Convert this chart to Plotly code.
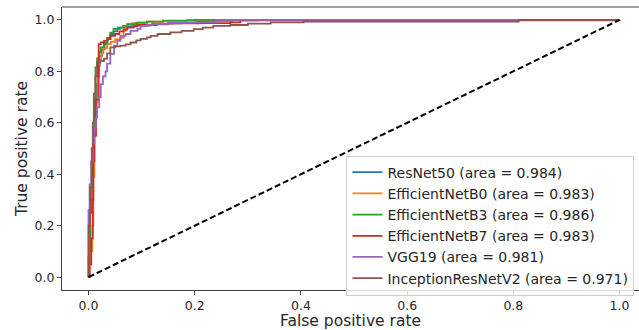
import plotly.graph_objects as go

names = ["ResNet50", "EfficientNetB0", "EfficientNetB3", "EfficientNetB7", "VGG19", "InceptionResNetV2"]
aucs = ["0.984", "0.983", "0.986", "0.983", "0.981", "0.971"]
colors = ["#1f77b4", "#ff7f0e", "#2ca02c", "#d62728", "#9467bd", "#8c564b"]

fpr_resnet50 = [0, 0, 0.003, 0.006, 0.006, 0.009, 0.012, 0.015, 0.018, 0.021, 0.025, 0.03, 0.036, 0.041, 0.047, 0.054, 0.06, 0.072, 0.085, 0.1, 0.117, 0.129, 0.15, 0.175, 0.205, 0.235, 0.27, 0.32, 1.0]
tpr_resnet50 = [0, 0.08, 0.25, 0.38, 0.45, 0.55, 0.66, 0.75, 0.82, 0.86, 0.885, 0.905, 0.925, 0.945, 0.955, 0.965, 0.97, 0.975, 0.978, 0.978, 0.98, 0.983, 0.986, 0.989, 0.992, 0.996, 0.998, 1.0, 1.0]

fpr_b0 = [0, 0.002, 0.004, 0.007, 0.009, 0.011, 0.014, 0.017, 0.02, 0.024, 0.028, 0.035, 0.042, 0.05, 0.06, 0.066, 0.07, 0.073, 0.082, 0.092, 0.11, 0.14, 0.186, 1.0]
tpr_b0 = [0, 0.05, 0.1, 0.2, 0.39, 0.55, 0.68, 0.78, 0.84, 0.87, 0.89, 0.906, 0.915, 0.925, 0.93, 0.957, 0.97, 0.983, 0.987, 0.99, 0.993, 0.996, 1.0, 1.0]

fpr_b3 = [0, 0.001, 0.003, 0.005, 0.007, 0.009, 0.011, 0.013, 0.016, 0.02, 0.023, 0.029, 0.035, 0.041, 0.047, 0.055, 0.065, 0.073, 0.09, 0.11, 0.14, 0.2, 1.0]
tpr_b3 = [0, 0.1, 0.25, 0.35, 0.5, 0.58, 0.69, 0.815, 0.85, 0.875, 0.893, 0.91, 0.93, 0.95, 0.965, 0.97, 0.977, 0.983, 0.988, 0.993, 0.997, 1.0, 1.0]

fpr_b7 = [0, 0.002, 0.005, 0.008, 0.009, 0.011, 0.014, 0.019, 0.023, 0.029, 0.035, 0.041, 0.05, 0.058, 0.066, 0.073, 0.085, 0.092, 0.12, 0.16, 0.21, 0.267, 0.286, 1.0]
tpr_b7 = [0, 0.05, 0.15, 0.3, 0.45, 0.55, 0.69, 0.906, 0.912, 0.918, 0.925, 0.938, 0.945, 0.955, 0.962, 0.97, 0.975, 0.98, 0.985, 0.986, 0.987, 0.99, 0.998, 1.0]

fpr_vgg19 = [0, 0, 0.002, 0.005, 0.008, 0.011, 0.014, 0.016, 0.02, 0.023, 0.027, 0.032, 0.035, 0.041, 0.048, 0.054, 0.06, 0.07, 0.079, 0.092, 0.098, 0.11, 0.122, 0.15, 0.2, 0.24, 1.0]
tpr_vgg19 = [0, 0.26, 0.36, 0.45, 0.52, 0.58, 0.62, 0.66, 0.7, 0.75, 0.78, 0.8, 0.83, 0.868, 0.9, 0.918, 0.938, 0.945, 0.957, 0.965, 0.977, 0.98, 0.984, 0.988, 0.99, 1.0, 1.0]

fpr_incep = [0, 0, 0.003, 0.006, 0.008, 0.01, 0.013, 0.016, 0.022, 0.029, 0.035, 0.041, 0.05, 0.06, 0.07, 0.079, 0.09, 0.098, 0.11, 0.117, 0.13, 0.154, 0.175, 0.198, 0.215, 0.235, 0.267, 0.3, 0.343, 0.405, 0.81, 1.0]
tpr_incep = [0, 0.2, 0.35, 0.5, 0.6, 0.713, 0.78, 0.834, 0.84, 0.849, 0.87, 0.893, 0.897, 0.90, 0.905, 0.912, 0.92, 0.926, 0.932, 0.938, 0.945, 0.951, 0.957, 0.964, 0.97, 0.977, 0.98, 0.985, 0.99, 0.993, 1.0, 1.0]

diag_x = [0, 1]
diag_y = [0, 1]

x_ticks = [0.0, 0.2, 0.4, 0.6, 0.8, 1.0]
y_ticks = [0.0, 0.2, 0.4, 0.6, 0.8, 1.0]
tick_text = ["0.0", "0.2", "0.4", "0.6", "0.8", "1.0"]

series = [
    (fpr_resnet50, tpr_resnet50),
    (fpr_b0, tpr_b0),
    (fpr_b3, tpr_b3),
    (fpr_b7, tpr_b7),
    (fpr_vgg19, tpr_vgg19),
    (fpr_incep, tpr_incep),
]

FONT = "DejaVu Sans"
fig = go.Figure()
for (fx, ty), name, auc, col in zip(series, names, aucs, colors):
    fig.add_trace(go.Scatter(
        x=fx, y=ty, mode="lines", line=dict(color=col, width=1.8, shape="hv"),
        name=f"{name} (area = {auc})",
    ))

fig.add_trace(go.Scatter(
    x=diag_x, y=diag_y, mode="lines",
    line=dict(color="black", width=2, dash="6px,3px"),
    showlegend=False,
))

L, R, T, B = 62, 0, 7, 40
W, H = 639, 330
pw = W - L - R
xmin = -0.05
xmax = xmin + pw / 531.0

fig.update_layout(
    width=W, height=H,
    margin=dict(l=L, r=R, t=T, b=B),
    paper_bgcolor="white", plot_bgcolor="white",
    font=dict(family=FONT, size=13, color="#262626"),
    showlegend=True,
    legend=dict(
        x=0.493, y=0.475, xanchor="left", yanchor="top",
        bgcolor="rgba(255,255,255,0.8)", bordercolor="#d0d0d0", borderwidth=1,
        font=dict(family=FONT, size=14, color="#262626"),
        tracegroupgap=0, itemwidth=30,
    ),
    xaxis=dict(
        range=[xmin, xmax], showgrid=False, zeroline=False,
        showline=True, linecolor="#404040", linewidth=1,
        ticks="outside", ticklen=4, tickcolor="#404040",
        tickvals=x_ticks, ticktext=tick_text,
        tickfont=dict(size=12.5),
        title=dict(text="False positive rate", font=dict(size=15.5), standoff=0),
    ),
    yaxis=dict(
        range=[-0.05, 1.05], showgrid=False, zeroline=False,
        showline=True, linecolor="#404040", linewidth=1,
        ticks="outside", ticklen=4, tickcolor="#404040",
        tickvals=y_ticks, ticktext=tick_text,
        tickfont=dict(size=12.5),
        title=dict(text="True positive rate", font=dict(size=15.5), standoff=3),
    ),
    shapes=[dict(type="line", xref="paper", yref="paper", x0=0, x1=1, y0=1, y1=1,
                 line=dict(color="#404040", width=1))],
)

fig.write_html("out.html")
